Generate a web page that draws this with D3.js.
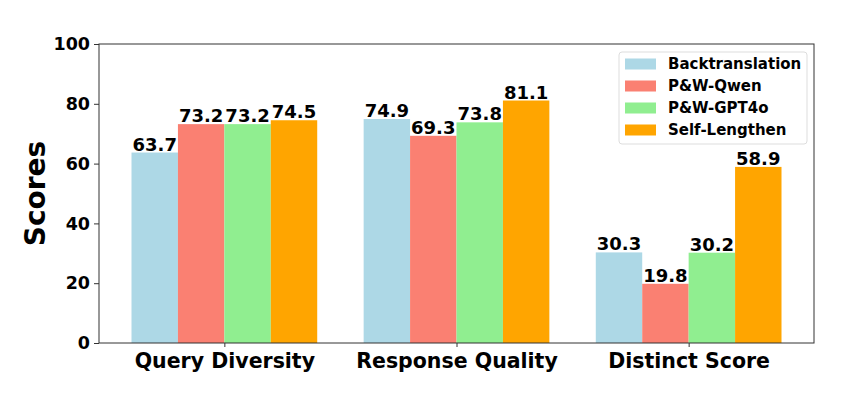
<!DOCTYPE html>
<html>
<head>
<meta charset="utf-8">
<script src="https://cdn.jsdelivr.net/npm/d3@7"></script>
<style>
  body { margin: 0; background: #fff; }
  text { font-family: "DejaVu Sans", sans-serif; font-weight: bold; }
</style>
</head>
<body>
<div id="chart"></div>
<script>
/** Chart data. */
const CATEGORIES = ["Query Diversity", "Response Quality", "Distinct Score"];
const SERIES = ["Backtranslation", "P&W-Qwen", "P&W-GPT4o", "Self-Lengthen"];
const COLORS = ["#ADD8E6", "#FA8072", "#90EE90", "#FFA500"];
const VALUES = [
    [63.7, 74.9, 30.3],
    [73.2, 69.3, 19.8],
    [73.2, 73.8, 30.2],
    [74.5, 81.1, 58.9],
];
const Y_TICKS = [0, 20, 40, 60, 80, 100];

const WIDTH = 850;
const HEIGHT = 396;
const MARGIN = {left: 99, right: 36, top: 44, bottom: 53};
const VIEW_WIDTH = WIDTH - MARGIN.left - MARGIN.right;
const VIEW_HEIGHT = HEIGHT - MARGIN.top - MARGIN.bottom;
const BAR_WIDTH = 0.2;

// Linear x in "category units", like matplotlib's bar positions.
const x = d3.scaleLinear()
    .domain([-0.54, CATEGORIES.length - 1 + 0.54])
    .range([0, VIEW_WIDTH]);
const y = d3.scaleLinear()
    .domain([0, 100])
    .range([VIEW_HEIGHT, 0]);

const svg = d3.select("#chart").append("svg")
    .attr("width", WIDTH)
    .attr("height", HEIGHT);

const g = svg.append("g")
    .attr("transform", `translate(${MARGIN.left},${MARGIN.top})`);

// Bars and value labels.
SERIES.forEach((name, si) => {
    const offset = (si - (SERIES.length - 1) / 2) * BAR_WIDTH;
    const data = VALUES[si].map((v, ci) => ({v, pos: ci + offset}));
    const layer = g.append("g").attr("class", "series");

    layer.selectAll("rect")
        .data(data)
        .join("rect")
        .attr("x", d => x(d.pos - BAR_WIDTH / 2))
        .attr("width", x(BAR_WIDTH) - x(0))
        .attr("y", d => y(d.v))
        .attr("height", d => y(0) - y(d.v))
        .attr("fill", COLORS[si]);

    layer.selectAll("text")
        .data(data)
        .join("text")
        .attr("x", d => x(d.pos))
        .attr("y", d => y(d.v) - 2)
        .attr("text-anchor", "middle")
        .attr("font-size", 18)
        .attr("fill", "#000")
        .text(d => d.v.toFixed(1));
});

// Y axis.
const yAxis = d3.axisLeft(y)
    .tickValues(Y_TICKS)
    .tickSizeInner(5)
    .tickSizeOuter(0)
    .tickPadding(4);
const yG = g.append("g").call(yAxis);
yG.select(".domain").remove();
yG.selectAll("text").attr("font-size", 17.5).attr("fill", "#000");
yG.selectAll("line").attr("stroke", "#333");

// X axis.
const xAxis = d3.axisBottom(x)
    .tickValues(d3.range(CATEGORIES.length))
    .tickFormat(i => CATEGORIES[i])
    .tickSizeInner(4)
    .tickSizeOuter(0)
    .tickPadding(6);
const xG = g.append("g")
    .attr("transform", `translate(0,${VIEW_HEIGHT})`)
    .call(xAxis);
xG.select(".domain").remove();
xG.selectAll("text").attr("font-size", 20.5).attr("fill", "#000");
xG.selectAll("line").attr("stroke", "#333");

// Frame (spines).
g.append("rect")
    .attr("x", 0)
    .attr("y", 0)
    .attr("width", VIEW_WIDTH)
    .attr("height", VIEW_HEIGHT)
    .attr("fill", "none")
    .attr("stroke", "#333")
    .attr("stroke-width", 1);

// Y label.
svg.append("text")
    .attr("transform", `translate(45,${MARGIN.top + VIEW_HEIGHT / 2}) rotate(-90)`)
    .attr("text-anchor", "middle")
    .attr("font-size", 28)
    .attr("fill", "#000")
    .text("Scores");

// Legend.
const legend = svg.append("g").attr("transform", "translate(619,52)");
legend.append("rect")
    .attr("width", 188)
    .attr("height", 92)
    .attr("rx", 3)
    .attr("fill", "#fff")
    .attr("fill-opacity", 0.8)
    .attr("stroke", "#ddd");
SERIES.forEach((name, i) => {
    const row = legend.append("g").attr("transform", `translate(0,${12 + i * 22})`);
    row.append("rect")
        .attr("x", 6)
        .attr("y", -5.5)
        .attr("width", 31)
        .attr("height", 11)
        .attr("fill", COLORS[i]);
    row.append("text")
        .attr("x", 49)
        .attr("y", 0)
        .attr("dy", "0.35em")
        .attr("font-size", 15)
        .attr("fill", "#000")
        .text(name);
});
</script>
</body>
</html>
